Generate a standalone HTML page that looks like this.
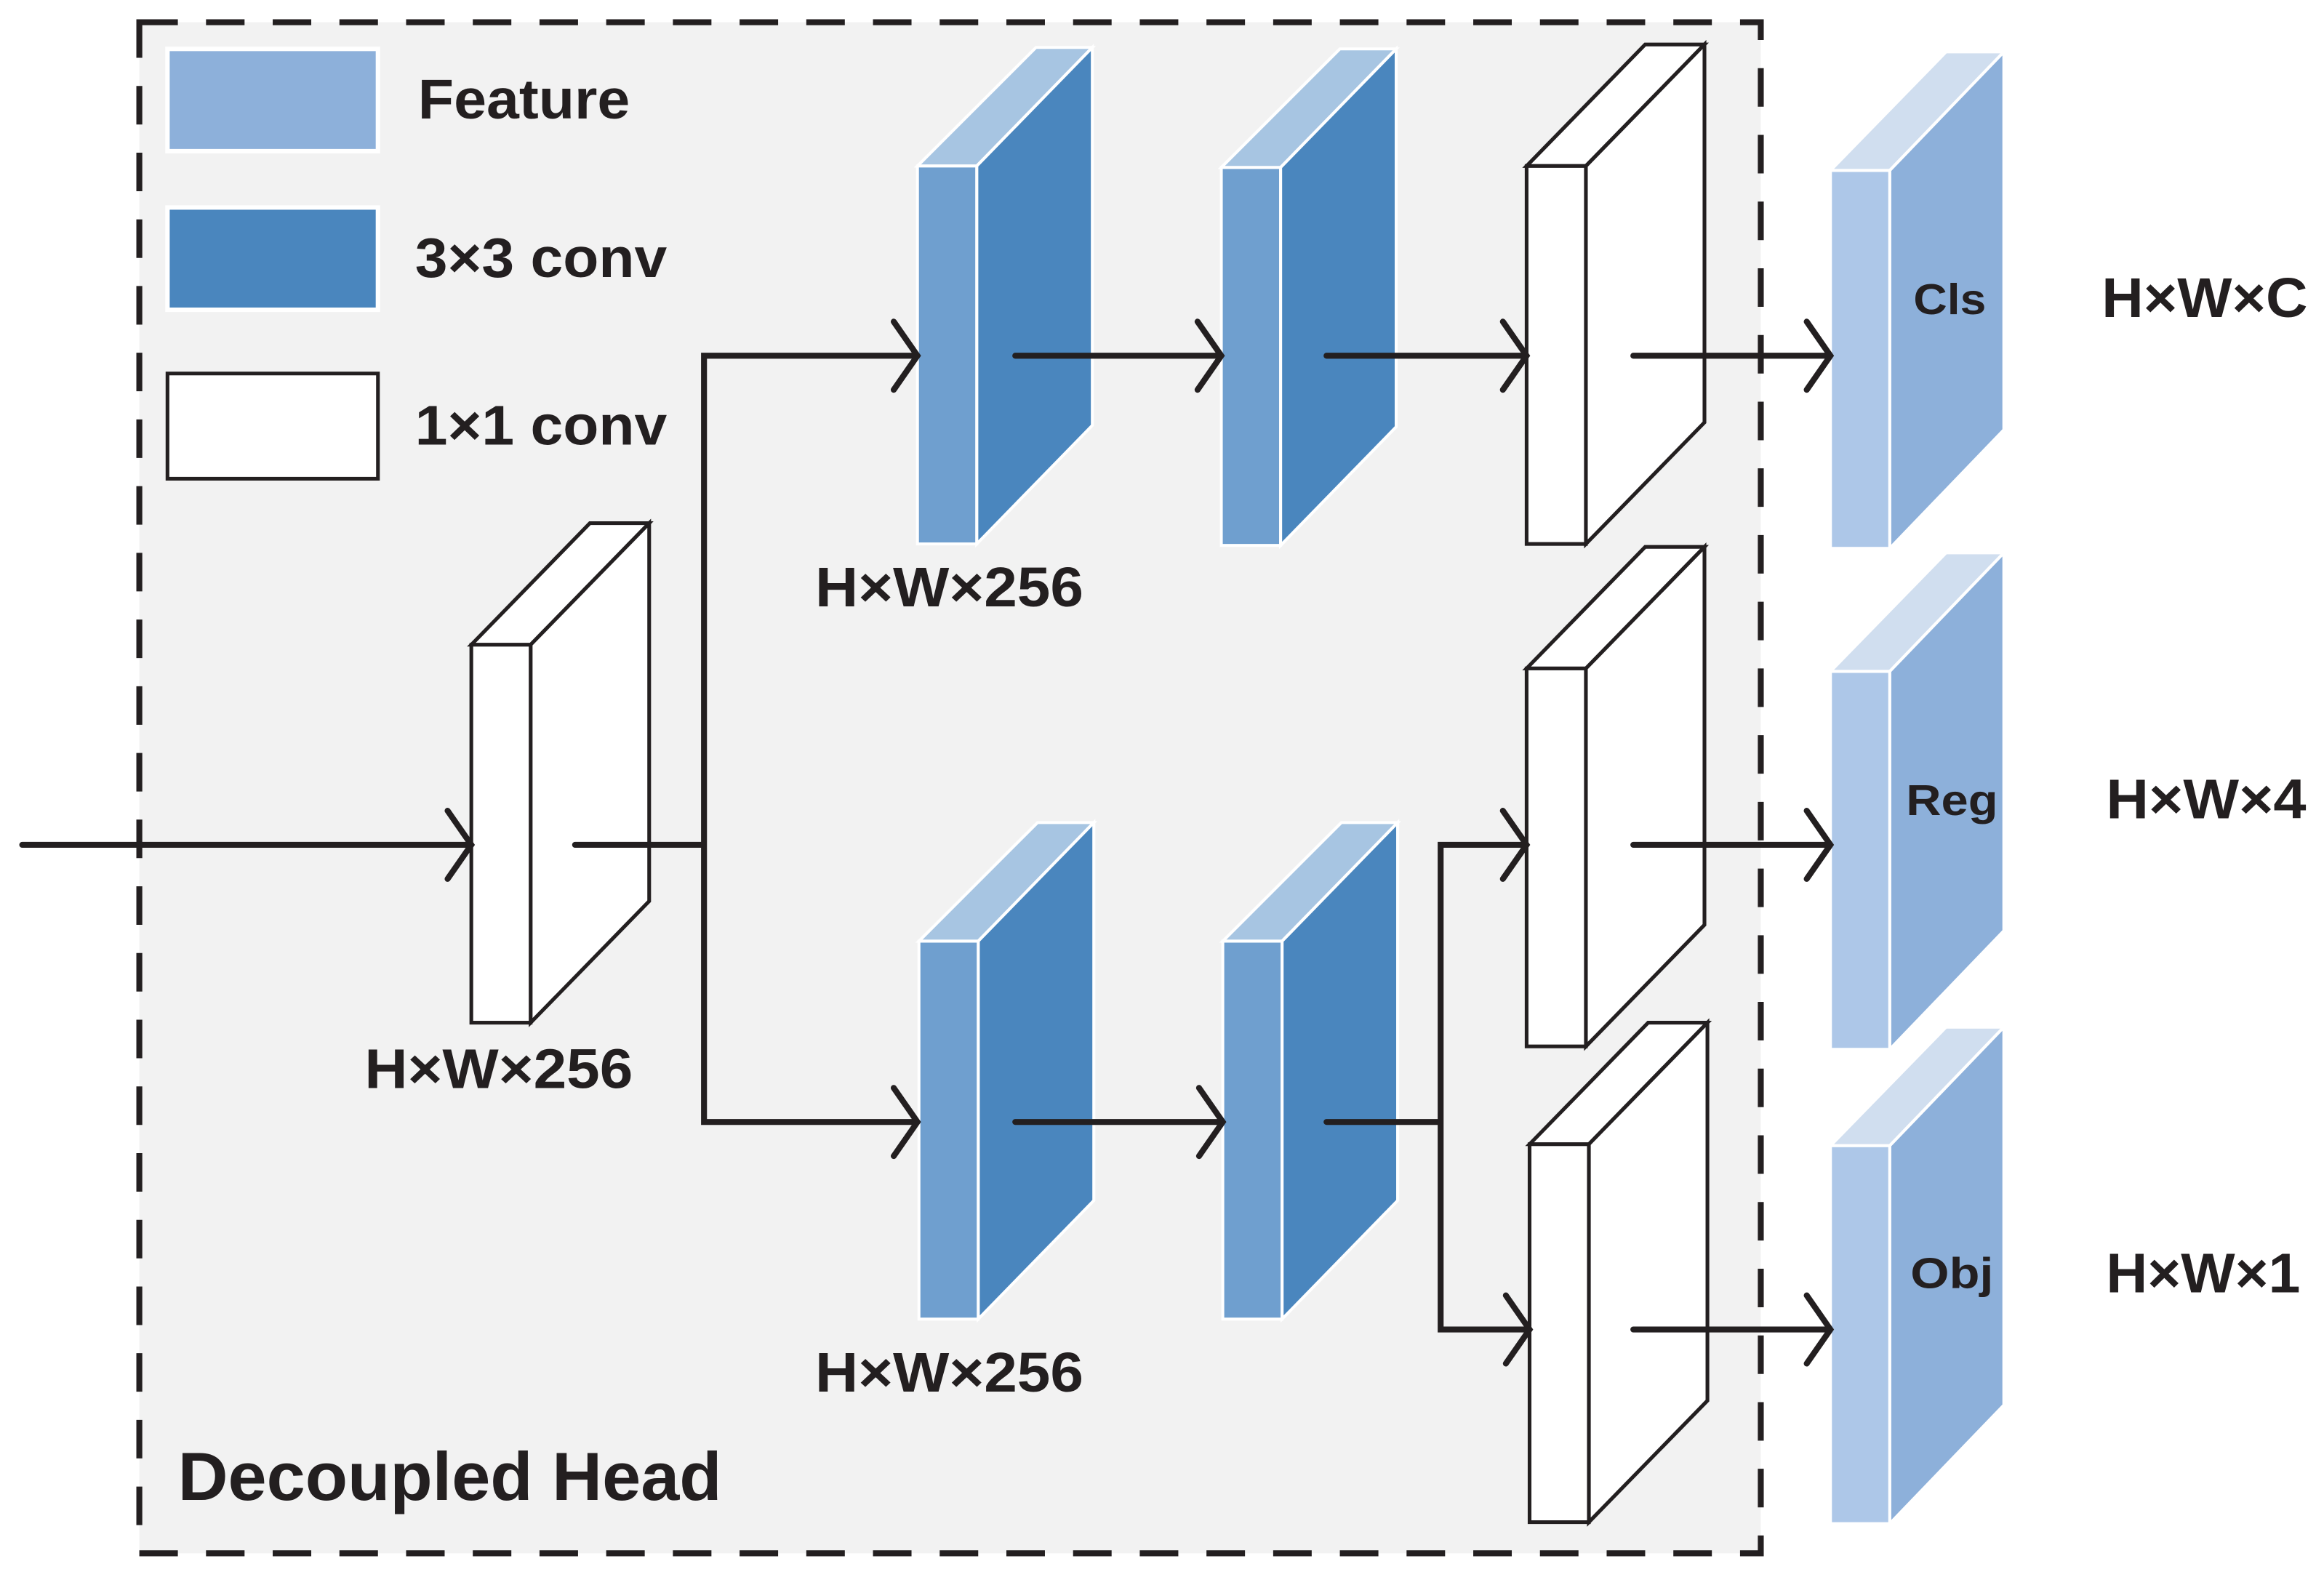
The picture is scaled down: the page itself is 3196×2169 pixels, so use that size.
<!DOCTYPE html>
<html><head><meta charset="utf-8"><style>
html,body{margin:0;padding:0;background:#fff;width:3196px;height:2169px;overflow:hidden}
svg{display:block}
text{font-family:"Liberation Sans",Arial,sans-serif;font-weight:bold;fill:#231f20}
</style></head><body>
<svg width="3196" height="2169" viewBox="0 0 1568 1064" preserveAspectRatio="none" xmlns="http://www.w3.org/2000/svg">
<defs>
<g id="blue"><!-- front at 0..40, top 0, height 255 -->
<polygon points="0,0 80,-80 118,-80 40,0" fill="#a7c5e2" stroke="#fff" stroke-width="2"/>
<polygon points="40,0 118,-80 118,175 40,255" fill="#4a86be" stroke="#fff" stroke-width="2"/>
<rect x="0" y="0" width="40" height="255" fill="#6f9fcf" stroke="#fff" stroke-width="2"/>
</g>
<g id="white">
<polygon points="0,0 80,-82 120,-82 40,0" fill="#fff" stroke="#231f20" stroke-width="2.5"/>
<polygon points="40,0 120,-82 120,173 40,255" fill="#fff" stroke="#231f20" stroke-width="2.5"/>
<rect x="0" y="0" width="40" height="255" fill="#fff" stroke="#231f20" stroke-width="2.5"/>
</g>
<g id="out">
<polygon points="0,0 78,-80 117,-80 40,0" fill="#d0deef" stroke="#fff" stroke-width="2"/>
<polygon points="40,0 117,-80 117,175 40,255" fill="#8db0da" stroke="#fff" stroke-width="2"/>
<rect x="0" y="0" width="40" height="255" fill="#adc7e8" stroke="#fff" stroke-width="2"/>
</g>
</defs>
<rect x="94" y="15" width="1094" height="1033" fill="#f2f2f2" stroke="#231f20" stroke-width="4" stroke-dasharray="26,19"/>
<rect x="113" y="33" width="142" height="69" fill="#8db0da" stroke="#fff" stroke-width="3"/>
<rect x="113" y="140" width="142" height="69" fill="#4a86be" stroke="#fff" stroke-width="3"/>
<rect x="113" y="252" width="142" height="71" fill="#fff" stroke="#231f20" stroke-width="2.5"/>
<text x="282" y="80" font-size="38" textLength="143" lengthAdjust="spacingAndGlyphs">Feature</text>
<text x="280" y="187" font-size="38" textLength="170" lengthAdjust="spacingAndGlyphs">3×3 conv</text>
<text x="280" y="300" font-size="38" textLength="170" lengthAdjust="spacingAndGlyphs">1×1 conv</text>

<use href="#white" x="318" y="435"/>
<use href="#blue" x="619" y="112"/>
<use href="#blue" x="824" y="113"/>
<use href="#white" x="1030" y="112"/>
<use href="#blue" x="620" y="635"/>
<use href="#blue" x="825" y="635"/>
<use href="#white" x="1030" y="451"/>
<use href="#white" x="1032" y="772"/>
<use href="#out" x="1235" y="115"/>
<use href="#out" x="1235" y="453"/>
<use href="#out" x="1235" y="773"/>

<g stroke="#231f20" stroke-width="4" fill="none" stroke-linecap="round" stroke-linejoin="miter">
<path d="M15,570H318M302,547L318,570L302,593"/>
<path d="M388,570H475M619,240H475V757H619M603,217L619,240L603,263M603,734L619,757L603,780"/>
<path d="M685,240H824M808,217L824,240L808,263"/>
<path d="M895,240H1030M1014,217L1030,240L1014,263"/>
<path d="M1102,240H1235M1219,217L1235,240L1219,263"/>
<path d="M685,757H825M809,734L825,757L809,780"/>
<path d="M895,757H972M1030,570H972V897H1032M1014,547L1030,570L1014,593M1016,874L1032,897L1016,920"/>
<path d="M1102,570H1235M1219,547L1235,570L1219,593"/>
<path d="M1102,897H1235M1219,874L1235,897L1219,920"/>
</g>

<text x="246" y="734" font-size="38" textLength="181" lengthAdjust="spacingAndGlyphs">H×W×256</text>
<text x="550" y="409" font-size="38" textLength="181" lengthAdjust="spacingAndGlyphs">H×W×256</text>
<text x="550" y="939" font-size="38" textLength="181" lengthAdjust="spacingAndGlyphs">H×W×256</text>
<text x="120" y="1012" font-size="46" textLength="367" lengthAdjust="spacingAndGlyphs">Decoupled Head</text>
<text x="1291" y="212" font-size="29" textLength="49" lengthAdjust="spacingAndGlyphs">Cls</text>
<text x="1286" y="550" font-size="29" textLength="62" lengthAdjust="spacingAndGlyphs">Reg</text>
<text x="1289" y="869" font-size="29" textLength="56" lengthAdjust="spacingAndGlyphs">Obj</text>
<text x="1418" y="214" font-size="38" textLength="139" lengthAdjust="spacingAndGlyphs">H×W×C</text>
<text x="1421" y="552" font-size="38" textLength="135" lengthAdjust="spacingAndGlyphs">H×W×4</text>
<text x="1421" y="872" font-size="38" textLength="131" lengthAdjust="spacingAndGlyphs">H×W×1</text>
</svg>
</body></html>
